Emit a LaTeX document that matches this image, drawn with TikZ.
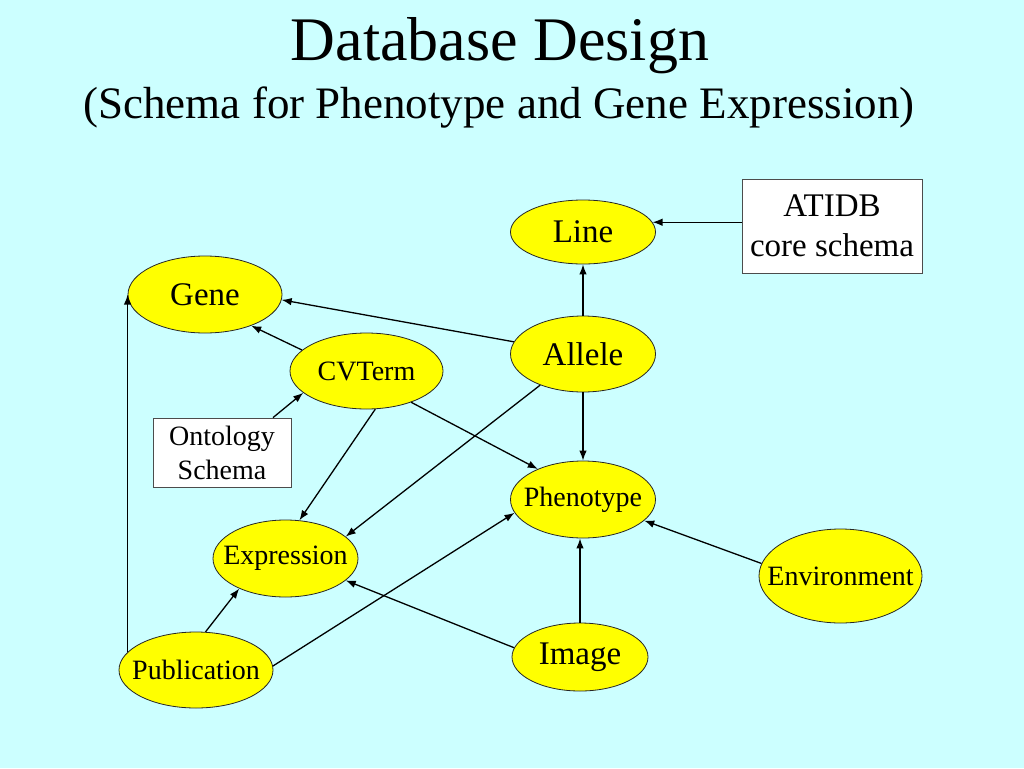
\documentclass[tikz,border=0pt]{standalone}
\usepackage{fontspec}
\setmainfont{Liberation Serif}
\usetikzlibrary{shapes.geometric,arrows.meta}
\definecolor{bg}{RGB}{204,255,255}
\definecolor{entyel}{RGB}{255,255,0}
\begin{document}
\begin{tikzpicture}[x=1pt,y=-1pt,
  ent/.style={ellipse, draw=black!85, line width=0.8pt, fill=entyel, inner sep=0pt},
  bigtxt/.style={font=\fontsize{33}{38}\selectfont, inner sep=0pt},
  smalltxt/.style={font=\fontsize{28}{32}\selectfont, inner sep=0pt},
  schemabox/.style={rectangle, draw=black!70, line width=0.8pt, fill=white, inner sep=0pt, align=center},
  arr/.style={-{Latex[length=10pt,width=7.5pt]}, line width=1.3pt, black}]
  \fill[bg] (0,0) rectangle (1024,768);
  \useasboundingbox (0,0) rectangle (1024,768);

  % titles
  \node[anchor=base, inner sep=0pt, font=\fontsize{62}{70}\selectfont] (title) at (500,60) {Database Design};
  \node[anchor=base, inner sep=0pt, font=\fontsize{45}{50}\selectfont] (subtitle) at (499,118) {(Schema for Phenotype and Gene Expression)};

  % entities
  \node[ent, minimum width=145, minimum height=64, label={[bigtxt]center:Line}] (line) at (583,232) {};
  \node[ent, minimum width=145, minimum height=76, label={[bigtxt]center:Allele}] (allele) at (583,354) {};
  \node[ent, minimum width=154, minimum height=77, label={[bigtxt]center:Gene}] (gene) at (205,294.5) {};
  \node[ent, minimum width=153, minimum height=76, label={[smalltxt]center:CVTerm}] (cv) at (366.5,371) {};
  \node[ent, minimum width=145, minimum height=77, label={[smalltxt]center:Phenotype}] (pheno) at (583,499.5) {};
  \node[ent, minimum width=145, minimum height=77, label={[smalltxt]center:Expression}] (expr) at (285.5,558.5) {};
  \node[ent, minimum width=154, minimum height=76, label={[smalltxt]center:Publication}] (pub) at (196,670) {};
  \node[ent, minimum width=136, minimum height=68, label={[bigtxt]center:Image}] (img) at (580,657) {};
  \node[ent, minimum width=163, minimum height=94, label={[smalltxt]center:Environment}] (env) at (840.5,576) {};

  % schema boxes
  \node[schemabox, minimum width=180, minimum height=94, font=\fontsize{33}{40}\selectfont] (atidb) at (832,226) {ATIDB\\core schema};
  \node[schemabox, minimum width=138, minimum height=69, font=\fontsize{28}{34}\selectfont] (ont) at (222,452.5) {Ontology\\Schema};

  % connectors
  \draw[arr] (atidb.west |- line.8) -- (line.8);
  \draw[arr] (allele) -- (line);
  \draw[arr] (allele.170) -- (gene.-4);
  \draw[arr] (cv.162) -- (gene.-34);
  \draw[arr] ([xshift=51pt]ont.north) -- (cv.199);
  \draw[arr] (cv.-35.5) -- (pheno.146.5);
  \draw[arr] (cv.-77.7) -- (expr.70);
  \draw[arr] (allele.216.8) -- (expr.20.5);
  \draw[arr] (allele) -- (pheno);
  \draw[arr] (img.north) -- (img.north |- pheno.south);
  \draw[arr] (env.171) -- (pheno.-19);
  \draw[arr] (img.172.5) -- (expr.-20.5);
  \draw[arr] (pub.3.7) -- (pheno.191.5);
  \draw[arr] (pub.76.7) -- (expr.213.6);
  \draw[arr] (gene.west |- pub.165) -- (gene.west);
\end{tikzpicture}
\end{document}
